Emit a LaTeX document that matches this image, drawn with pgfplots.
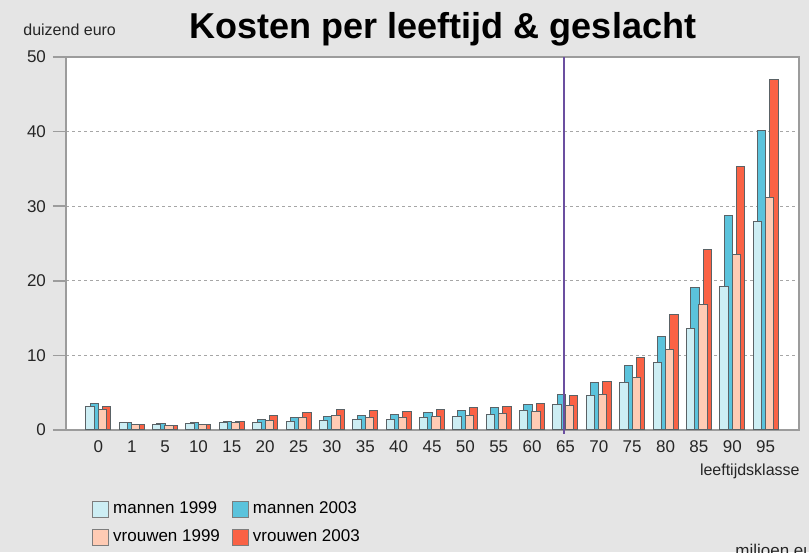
\documentclass[border=0pt]{standalone}
\usepackage{pgfplots}
\pgfplotsset{compat=1.18}
\usepackage{pgfplotstable}
\usepackage{fontspec}
\setmainfont{Liberation Sans}

\definecolor{bgcol}{HTML}{E5E5E5}
\definecolor{mlight}{HTML}{CDEEF4}
\definecolor{mdark}{HTML}{5BC3DC}
\definecolor{vlight}{HTML}{FFCBB4}
\definecolor{vdark}{HTML}{FA6245}
\definecolor{framecol}{HTML}{9C9C9C}
\definecolor{barline}{HTML}{5A6266}
\definecolor{lijn}{HTML}{6B4FA0}

\pgfplotstableread{
idx m99 m03 v99 v03
0  3.1  3.6  2.7  3.1
1  1.0  1.0  0.77 0.75
2  0.77 0.9  0.55 0.55
3  0.9  1.0  0.77 0.77
4  1.0  1.2  1.0  1.2
5  1.05 1.45 1.34 1.88
6  1.1  1.65 1.65 2.37
7  1.25 1.8  1.88 2.77
8  1.43 1.88 1.65 2.6
9  1.47 2.1  1.65 2.5
10 1.65 2.3  1.8  2.7
11 1.8  2.64 1.92 3.0
12 2.1  3.0  2.15 3.1
13 2.6  3.44 2.46 3.57
14 3.44 4.7  3.26 4.65
15 4.56 6.4  4.7  6.5
16 6.4  8.7  7.0  9.74
17 9.07 12.6 10.8 15.5
18 13.6 19.1 16.8 24.2
19 19.2 28.8 23.5 35.3
20 27.9 40.2 31.2 47.05
}\data

\pgfplotsset{sq/.style={legend image code/.code={\draw[fill=#1, draw=framecol!80!black, line width=0.5pt] (0pt,-4pt) rectangle (8pt,4pt);}}}

\begin{document}
\begin{tikzpicture}
\fill[bgcol] (0,0) rectangle (404.5pt,276pt);
\useasboundingbox (0,0) rectangle (404.5pt,276pt);
\clip (0,0) rectangle (404.5pt,276pt);
\begin{axis}[
  at={(33pt,61pt)}, anchor=south west,
  scale only axis, width=366.5pt, height=186.5pt,
  xmin=-0.97, xmax=21, ymin=0, ymax=50,
  xtick={0,...,20},
  xticklabels={0,1,5,10,15,20,25,30,35,40,45,50,55,60,65,70,75,80,85,90,95},
  ytick={0,10,...,50},
  x tick style={draw=none},
  y tick style={framecol, line width=0.8pt},
  tick align=outside, major tick length=6.5pt,
  ytick pos=left, xtick pos=bottom,
  ymajorgrids,
  grid style={draw=gray!70, dash pattern=on 1.5pt off 1.5pt, line width=0.5pt},
  axis line style={framecol, line width=1pt},
  axis background/.style={fill=white},
  tick label style={font=\fontsize{8.5}{10}\selectfont, text=black!85},
  xticklabel style={yshift=4.5pt},
  /pgf/number format/assume math mode=true,
  clip=false,
  legend style={at={(0.027,-0.17)}, anchor=north west, draw=none, fill=none,
    font=\fontsize{8.5}{10}\selectfont, row sep=2.5pt,
    /tikz/every even column/.append style={column sep=4pt}},
  legend columns=2, legend cell align=left,
]
\addlegendimage{sq=mlight}
\addlegendimage{sq=mdark}
\addlegendimage{sq=vlight}
\addlegendimage{sq=vdark}
\addplot[ybar, bar width=0.25, bar shift=-0.12, fill=mdark, draw=barline, line width=0.5pt, forget plot] table[x=idx,y=m03]{\data};
\addplot[ybar, bar width=0.25, bar shift=-0.25, fill=mlight, draw=barline, line width=0.5pt, forget plot] table[x=idx,y=m99]{\data};
\addplot[ybar, bar width=0.25, bar shift=0.25, fill=vdark, draw=barline, line width=0.5pt, forget plot] table[x=idx,y=v03]{\data};
\addplot[ybar, bar width=0.25, bar shift=0.12, fill=vlight, draw=barline, line width=0.5pt, forget plot] table[x=idx,y=v99]{\data};
\addplot[lijn, line width=0.75pt, forget plot] coordinates {(13.95,-0.5) (13.95,50)};
\legend{mannen 1999, mannen 2003, vrouwen 1999, vrouwen 2003}
\end{axis}
\node[anchor=base, font=\bfseries\fontsize{18}{21}\selectfont] at (221.5pt,256.5pt) {Kosten per leeftijd \& geslacht};
\node[anchor=base west, inner sep=0pt, font=\fontsize{8}{9}\selectfont, text=black!85] at (11.5pt,258pt) {duizend euro};
\node[anchor=base east, inner sep=0pt, font=\fontsize{8}{9}\selectfont, text=black!85] at (400pt,38pt) {leeftijdsklasse};
\node[anchor=north west, inner sep=0pt, font=\fontsize{8.5}{10}\selectfont, text=black!85] at (367.5pt,4pt) {miljoen euro};
\end{tikzpicture}
\end{document}
